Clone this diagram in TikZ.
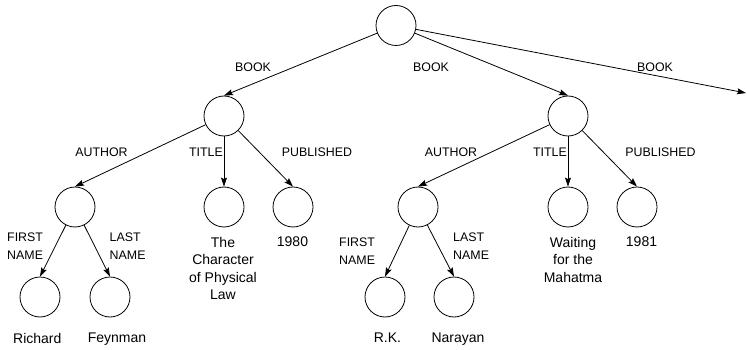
\documentclass[tikz,border=0pt]{standalone}
\usepackage{fontspec}
\setmainfont{Liberation Sans}
\usetikzlibrary{arrows.meta,positioning}
\tikzset{
  obj/.style  ={draw,circle,minimum size=40pt,inner sep=0pt,line width=0.8pt},
  edge/.style ={-{Stealth[length=9pt,width=6pt,inset=1.5pt]},line width=0.8pt},
  lbl/.style  ={font=\fontsize{12.4}{18}\selectfont,inner sep=0pt,anchor=north},
  lbl2/.style ={lbl,anchor=north west,align=left},
  val/.style  ={font=\fontsize{14}{17.5}\selectfont,inner sep=0pt,anchor=north,align=center},
}
\begin{document}
\begin{tikzpicture}[x=1pt,y=-1pt]
\useasboundingbox (0,0) rectangle (747,350);

% objects
\node[obj] (root)    at (396,25.5) {};
\node[obj] (book1)   at (224,116) {};
\node[obj] (book2)   at (568,116) {};
\coordinate (book3) at (746,93);
\node[obj] (author1) at (75,207) {};
\node[obj] (title1)  at (224,207) {};
\node[obj] (pub1)    at (293,207) {};
\node[obj] (first1)  at (40,297) {};
\node[obj] (last1)   at (110,297) {};
\node[obj] (author2) at (418,207) {};
\node[obj] (title2)  at (568,207) {};
\node[obj] (pub2)    at (637,207) {};
\node[obj] (first2)  at (385,297) {};
\node[obj] (last2)   at (454,297) {};

% edges
\draw[edge] (root) -- (book1.north);
\draw[edge] (root) -- (book2.north);
\draw[edge] (root) -- (book3);
\draw[edge] (book1) -- (author1.north);
\draw[edge] (book1.south) -- (title1.north);
\draw[edge] (book1) -- (pub1.north);
\draw[edge] (author1) -- (first1.north);
\draw[edge] (author1) -- (last1.north);
\draw[edge] (book2) -- (author2.north);
\draw[edge] (book2.south) -- (title2.north);
\draw[edge] (book2) -- (pub2.north);
\draw[edge] (author2) -- (first2.north);
\draw[edge] (author2) -- (last2.north);

% edge labels
\node[lbl] (lbook1) at (253,62.5) {BOOK};
\node[lbl] (lbook2) at (431,62.5) {BOOK};
\node[lbl] (lbook3) at (655,62.5) {BOOK};
\node[lbl] (lauth1) at (101.5,147.5) {AUTHOR};
\node[lbl] (ltitl1) at (206,147.5) {TITLE};
\node[lbl] (lpubl1) at (317,147.5) {PUBLISHED};
\node[lbl] (lauth2) at (451,147.5) {AUTHOR};
\node[lbl] (ltitl2) at (550,147.5) {TITLE};
\node[lbl] (lpubl2) at (660.5,147.5) {PUBLISHED};
\node[lbl2] (lfirst1) at (7,232.5) {FIRST\\NAME};
\node[lbl2] (llast1)  at (109.5,232.5) {LAST\\NAME};
\node[lbl2] (lfirst2) at (339,237.5) {FIRST\\NAME};
\node[lbl2] (llast2)  at (453,232.5) {LAST\\NAME};

% values
\node[val] (vtitle1) at (223,237) {The\\Character\\of Physical\\Law};
\node[val] (vpub1)   at (292.5,237) {1980};
\node[val] (vtitle2) at (573,237) {Waiting\\for the\\Mahatma};
\node[val] (vpub2)   at (641.5,237) {1981};
\node[val] (vfirst1) at (37.3,333) {Richard};
\node[val] (vlast1)  at (117,333) {Feynman};
\node[val] (vfirst2) at (387.5,333) {R.K.};
\node[val] (vlast2)  at (458,333) {Narayan};
\end{tikzpicture}
\end{document}
